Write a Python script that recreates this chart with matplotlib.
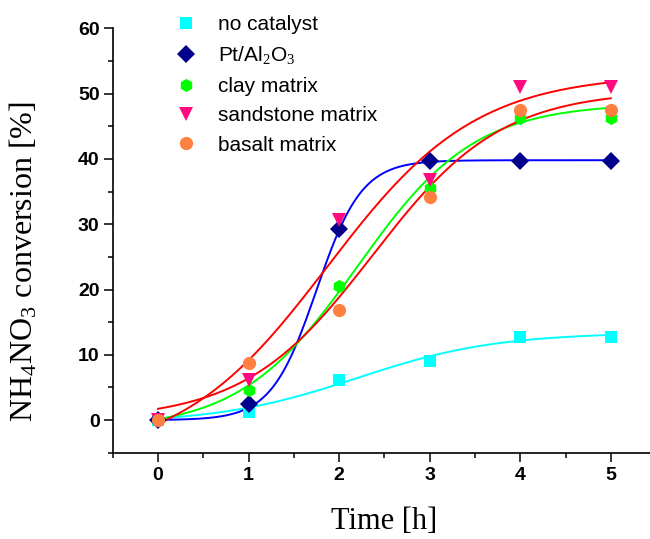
import numpy as np
import matplotlib
matplotlib.use("Agg")
import matplotlib.pyplot as plt

# measured conversion (%) vs time (h)
time_h = [0, 1, 2, 3, 4, 5]
no_catalyst = [0.0, 1.2, 6.1, 9.0, 12.8, 12.8]
pt_al2o3 = [0.0, 2.5, 29.2, 39.7, 39.7, 39.7]
clay = [0.0, 4.6, 20.5, 35.5, 46.3, 46.3]
sandstone = [0.0, 6.2, 30.7, 36.7, 51.0, 51.0]
basalt = [0.0, 8.8, 16.8, 34.2, 47.5, 47.5]

labels = ['no catalyst', r'Pt/Al$_2$O$_3$', 'clay matrix',
          'sandstone matrix', 'basalt matrix']

# Boltzmann fit parameters
fit_A1 = [-0.5, 0.0, -1.5, -6.0, 0.0]
fit_A2 = [13.4, 39.8, 48.5, 53.0, 50.5]
fit_x0 = [2.2, 1.75, 2.2, 1.87, 2.37]
fit_dx = [0.77, 0.25, 0.65, 0.82, 0.71]

series = [no_catalyst, pt_al2o3, clay, sandstone, basalt]
marker_colors = ['#00FFFF', '#00008B', '#00FF00', '#FF0A80', '#FF8040']
line_colors = ['#00FFFF', '#0000FF', '#00FF00', '#FF0000', '#FF0000']
markers = ['s', 'D', 'h', 'v', 'o']
msizes = [8, 9, 9.5, 10, 9.5]

plt.rcParams['mathtext.fontset'] = 'custom'
plt.rcParams['mathtext.rm'] = 'Liberation Serif'
plt.rcParams['mathtext.it'] = 'Liberation Serif'


def boltzmann(x, a1, a2, x0, dx):
    return a2 + (a1 - a2) / (1 + np.exp((x - x0) / dx))


fig = plt.figure(figsize=(6.5, 5.39), dpi=100)
ax = fig.add_axes([0.1734, 0.160, 0.836, 0.7875])

xs = np.linspace(0, 5, 200)
for i in range(len(series)):
    ax.plot(xs, boltzmann(xs, fit_A1[i], fit_A2[i], fit_x0[i], fit_dx[i]),
            color=line_colors[i], lw=1.4, zorder=2)

handles = []
for i, vals in enumerate(series):
    h, = ax.plot(time_h, vals, linestyle='none', marker=markers[i],
                 color=marker_colors[i], markersize=msizes[i],
                 markeredgewidth=0, label=labels[i], zorder=3)
    handles.append(h)

ax.set_xlim(-0.5, 5.5)
ax.set_ylim(-5, 60)
ax.set_xticks([0, 1, 2, 3, 4, 5])
ax.set_xticks(np.arange(-0.5, 5.6, 0.5), minor=True)
ax.set_yticks([0, 10, 20, 30, 40, 50, 60])
ax.set_yticks(np.arange(-5, 61, 5), minor=True)

for side in ['top', 'right']:
    ax.spines[side].set_visible(False)
for side in ['left', 'bottom']:
    ax.spines[side].set_linewidth(1.2)

ax.tick_params(which='major', length=6.5, width=1.1, direction='out')
ax.tick_params(which='minor', length=3.6, width=1.1, direction='out')
ax.tick_params(axis='y', pad=3)
ax.tick_params(axis='x', pad=4)
for lab in ax.get_xticklabels() + ax.get_yticklabels():
    lab.set_fontfamily('Liberation Sans')
    lab.set_fontweight('bold')
    lab.set_fontsize(14)

ax.set_xlabel('Time [h]', family='Liberation Serif', fontsize=22, labelpad=16)
ax.set_ylabel(r'NH$_4$NO$_3$ conversion [%]', family='Liberation Serif',
              fontsize=23)
ax.yaxis.set_label_coords(-0.134, 0.45)

leg = ax.legend(handles=handles, loc='upper left', frameon=False,
                bbox_to_anchor=(176 / 650, 1 - 15 / 539),
                bbox_transform=fig.transFigure, numpoints=1,
                prop={'family': 'Liberation Sans', 'size': 15},
                handlelength=1.0, handletextpad=1.0, labelspacing=0.5,
                borderpad=0, borderaxespad=0)

fig.savefig('out.png', dpi=100)
